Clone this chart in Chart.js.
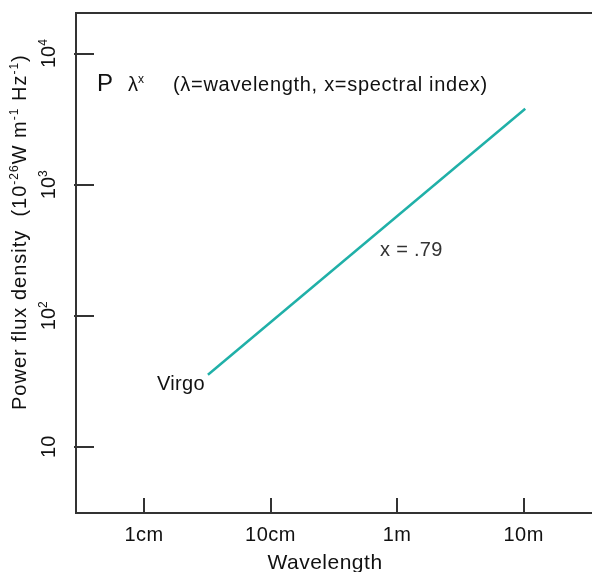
<!DOCTYPE html>
<html>
<head>
<meta charset="utf-8">
<script src="https://cdn.jsdelivr.net/npm/chart.js@4"></script>
<style>
  body { margin: 0; background: #fff; }
  canvas { display: block; }
</style>
</head>
<body>
<canvas id="myChart" width="592" height="572"></canvas>
<script>
const ctx = document.getElementById('myChart');

// wavelength in cm, flux density in 10^-26 W m^-1 Hz^-1
const wavelengthCm = [3.2, 1030];
const virgoFlux = [35.5, 3800];

const xTickValues = [1, 10, 100, 1000];
const xTickLabels = ['1cm', '10cm', '1m', '10m'];
const yTickValues = [10, 100, 1000, 10000];
const yTickBase = ['10', '10', '10', '10'];
const yTickSup = ['', '2', '3', '4'];

const FONT = '"Liberation Sans", Arial, sans-serif';

// draw a row of text pieces, some raised as superscripts
function drawRuns(c, runs, x, y, size) {
    let cx = x;
    runs.forEach(r => {
        const s = r.sup ? Math.round(size * 0.6) : size;
        c.font = s + 'px ' + FONT;
        c.fillText(r.t, cx, r.sup ? y - size * 0.42 : y);
        cx += c.measureText(r.t).width;
    });
    return cx - x;
}

function runsWidth(c, runs, size) {
    let w = 0;
    runs.forEach(r => {
        c.font = (r.sup ? Math.round(size * 0.6) : size) + 'px ' + FONT;
        w += c.measureText(r.t).width;
    });
    return w;
}

const framePlugin = {
    id: 'frame',
    afterDraw(chart) {
        const c = chart.ctx;
        const a = chart.chartArea;
        const xs = chart.scales.x;
        const ys = chart.scales.y;
        c.save();

        // box
        c.strokeStyle = '#333';
        c.lineWidth = 2;
        c.beginPath();
        c.moveTo(a.right, a.top);
        c.lineTo(a.left, a.top);
        c.lineTo(a.left, a.bottom);
        c.lineTo(a.right, a.bottom);
        c.stroke();

        // inner ticks
        c.lineWidth = 2;
        xTickValues.forEach(v => {
            const px = Math.round(xs.getPixelForValue(v));
            c.beginPath();
            c.moveTo(px, a.bottom);
            c.lineTo(px, a.bottom - 15);
            c.stroke();
        });
        yTickValues.forEach(v => {
            const py = Math.round(ys.getPixelForValue(v));
            c.beginPath();
            c.moveTo(a.left - 2, py);
            c.lineTo(a.left + 18, py);
            c.stroke();
        });

        c.fillStyle = '#111';
        c.textBaseline = 'alphabetic';

        // x tick labels
        c.font = '20px ' + FONT;
        c.textAlign = 'center';
        c.letterSpacing = '0.5px';
        xTickValues.forEach((v, i) => {
            c.fillText(xTickLabels[i], xs.getPixelForValue(v), 541);
        });
        c.font = '21px ' + FONT;
        c.fillText('Wavelength', 325, 569);

        // y tick labels, rotated
        c.textAlign = 'left';
        c.letterSpacing = '0px';
        yTickValues.forEach((v, i) => {
            const py = ys.getPixelForValue(v);
            const runs = [{ t: yTickBase[i] }];
            if (yTickSup[i]) runs.push({ t: yTickSup[i], sup: true });
            const w = runsWidth(c, runs, 20);
            c.save();
            c.translate(55, py);
            c.rotate(-Math.PI / 2);
            drawRuns(c, runs, -w / 2, 0, 20);
            c.restore();
        });

        // y title, rotated
        c.save();
        c.letterSpacing = '1px';
        c.translate(26, 410);
        c.rotate(-Math.PI / 2);
        drawRuns(c, [
            { t: 'Power flux density  (10' },
            { t: '-26', sup: true },
            { t: 'W m' },
            { t: '-1', sup: true },
            { t: ' Hz' },
            { t: '-1', sup: true },
            { t: ')' }
        ], 0, 0, 20);
        c.restore();

        // annotations
        c.letterSpacing = '0px';
        c.font = '24px ' + FONT;
        c.fillText('P', 97, 91);
        drawRuns(c, [{ t: '\u03BB' }, { t: 'x', sup: true }], 128, 91, 20);
        c.letterSpacing = '0.7px';
        c.font = '20px ' + FONT;
        c.fillText('(\u03BB=wavelength, x=spectral index)', 173, 91);
        c.letterSpacing = '0.3px';
        c.fillText('Virgo', 157, 390);
        c.fillStyle = '#333';
        c.fillText('x = .79', 380, 256);

        c.restore();
    }
};

new Chart(ctx, {
    type: 'line',
    data: {
        datasets: [{
            label: 'Virgo',
            data: wavelengthCm.map((w, i) => ({ x: w, y: virgoFlux[i] })),
            borderColor: 'rgb(32, 176, 168)',
            borderWidth: 2.5,
            pointRadius: 0,
            fill: false
        }]
    },
    options: {
        responsive: false,
        animation: false,
        layout: {
            padding: { left: 76, top: 13, right: 0, bottom: 59 }
        },
        plugins: {
            legend: { display: false },
            tooltip: { enabled: false }
        },
        scales: {
            x: { type: 'logarithmic', min: 0.29, max: 3470, display: false },
            y: { type: 'logarithmic', min: 3.13, max: 20400, display: false }
        }
    },
    plugins: [framePlugin]
});
</script>
</body>
</html>
